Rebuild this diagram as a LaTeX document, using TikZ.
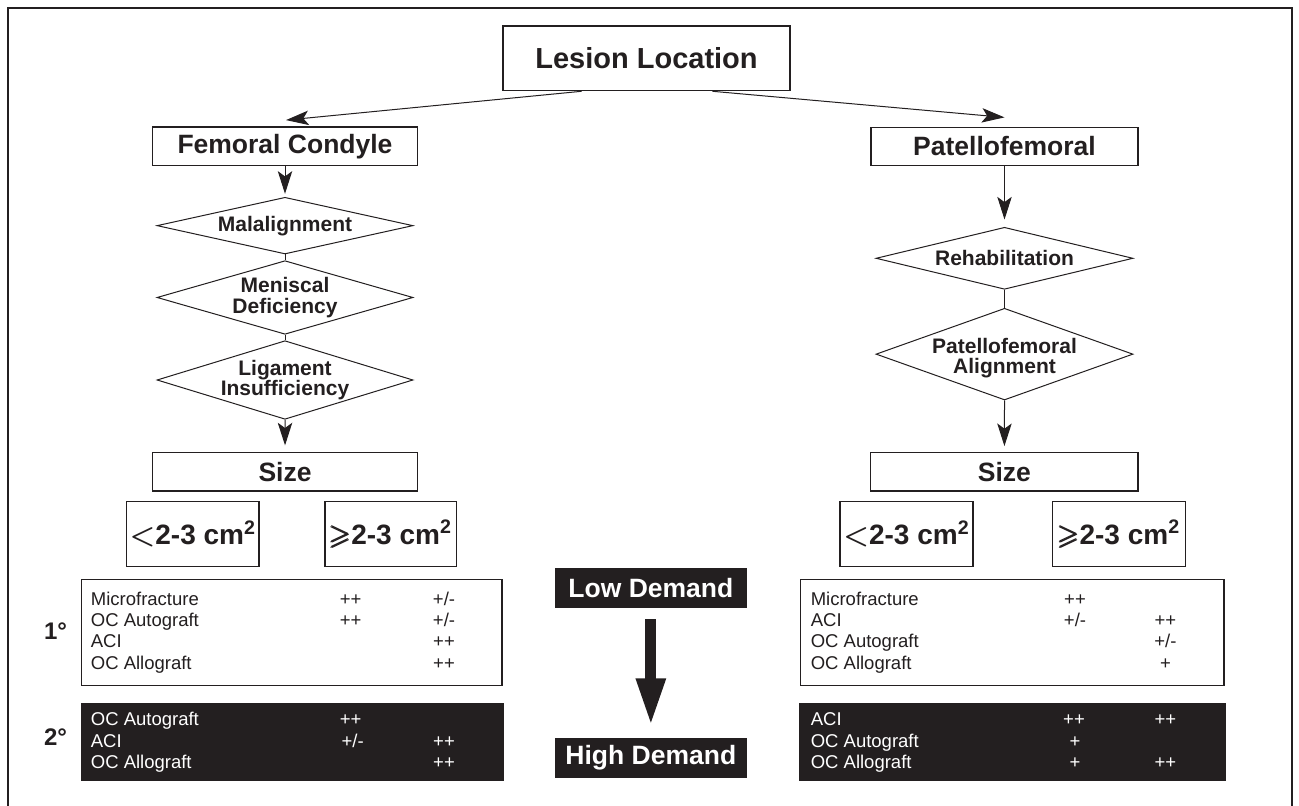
\documentclass[tikz,border=0pt]{standalone}
\usepackage{fontspec}
\setmainfont{Liberation Sans}
\usepackage{amsmath,amssymb}
\usetikzlibrary{shapes.geometric,arrows.meta,calc}
\definecolor{ink}{HTML}{231F20}
\begin{document}
\begin{tikzpicture}[x=0.5pt,y=-0.5pt,
  box/.style={draw=ink, line width=0.6pt, rectangle, inner sep=0pt, text=ink,
    font=\bfseries\fontsize{13.25pt}{15pt}\selectfont},
  bigbox/.style={box, font=\bfseries\fontsize{14.5pt}{17pt}\selectfont},
  sizebox/.style={box, font=\bfseries\fontsize{14pt}{16pt}\selectfont,
    minimum height=32.7pt},
  darkbox/.style={fill=ink, draw=ink, rectangle, inner sep=0pt, text=white,
    font=\bfseries\fontsize{13.25pt}{15pt}\selectfont},
  tablebox/.style={draw=ink, line width=0.6pt, rectangle, inner sep=0pt},
  darktable/.style={fill=ink, draw=ink, line width=0.6pt, rectangle, inner sep=0pt},
  diashape/.style={draw=ink, line width=0.5pt, diamond, inner sep=0pt},
  diatext/.style={align=center, text=ink, inner sep=0pt,
      font=\bfseries\fontsize{10.5pt}{10.3pt}\selectfont},
  dia/.style={diashape, label={[diatext]center:#1}},
  tt/.style={inner sep=0pt, text=ink, font=\fontsize{9.25pt}{11pt}\selectfont},
  ttw/.style={tt, text=white},
  rank/.style={inner sep=0pt, text=ink, anchor=base,
    font=\bfseries\fontsize{12pt}{14pt}\selectfont},
  ln/.style={draw=ink, line width=0.5pt},
  arr/.style={ln, -{Stealth[length=11.3pt, width=7.2pt, inset=2.6pt]}}
]
\useasboundingbox (0,0) rectangle (1299,806);
\fill[white] (0,0) rectangle (1299,806);
% outer frame (open at bottom, runs off the picture)
\draw[ink, line width=1.15pt] (8,830) -- (8,8) -- (1292,8) -- (1292,830);

% top level
\node[bigbox, minimum width=143.5pt, minimum height=32.35pt] (lesion) at (646.5,58.35) {Lesion Location};
\node[box, minimum width=132.35pt, minimum height=19.35pt] (fc) at (285,146.35) {Femoral Condyle};
\node[box, minimum width=133.5pt, minimum height=19.2pt] (pf) at (1004.5,146.5) {Patellofemoral};

% diamonds left
\node[dia={Malalignment}, minimum width=128pt, minimum height=28.35pt] (mal) at (285,225.65) {};
\node[dia={Meniscal\\Deficiency}, minimum width=128pt, minimum height=36.8pt] (men) at (285,297.5) {};
\node[dia={Ligament\\Insufficiency}, minimum width=128pt, minimum height=39.3pt] (lig) at (285,380) {};
% diamonds right
\node[dia={Rehabilitation}, minimum width=128.5pt, minimum height=31pt] (reh) at (1004.5,258.3) {};
\node[diashape, label={[diatext, yshift=-2pt]center:Patellofemoral\\Alignment},
  minimum width=128.5pt, minimum height=45.85pt] (pfa) at (1004.5,354.15) {};

% size boxes
\node[box, minimum width=132.35pt, minimum height=19.15pt] (sizeL) at (285.05,471.85) {Size};
\node[box, minimum width=133.6pt, minimum height=19.15pt] (sizeR) at (1004.4,471.85) {Size};

\node[sizebox, minimum width=66.2pt] (ltL) at (192.8,534) {$\boldsymbol{<}$2-3 cm\textsuperscript{2}};
\node[sizebox, minimum width=65.7pt] (geL) at (390.7,534) {$\pmb{\geqslant}$2-3 cm\textsuperscript{2}};
\node[sizebox, minimum width=66.5pt] (ltR) at (906.5,534) {$\boldsymbol{<}$2-3 cm\textsuperscript{2}};
\node[sizebox, minimum width=66.5pt] (geR) at (1119,534) {$\pmb{\geqslant}$2-3 cm\textsuperscript{2}};

% connectors
\draw[arr] ($(lesion.south)+(-65,0)$) -- ($(fc.north)+(1,-6.3)$);
\draw[arr] ($(lesion.south)+(66,0)$) -- ($(pf.north)+(0,-9.3)$);
\draw[arr, shorten >=1.5pt] (fc.south) -- (mal.north);
\draw[ln] (mal.south) -- (men.north);
\draw[ln] (men.south) -- (lig.north);
\draw[arr, shorten >=3.35pt] (lig.south) -- (sizeL.north);
\draw[arr, shorten >=3.65pt] (pf.south) -- (reh.north);
\draw[ln] (reh.south) -- (pfa.north);
\draw[arr, shorten >=3pt] (pfa.south) -- (sizeR.north);

% treatment tables
\node[tablebox, minimum width=210.35pt, minimum height=53pt] (t1L) at (291.65,632.3) {};
\node[darktable, minimum width=210.85pt, minimum height=38.35pt] (t2L) at (292.15,741.65) {};
\node[tablebox, minimum width=211.6pt, minimum height=53pt] (t1R) at (1012.4,632.3) {};
\node[darktable, minimum width=212.5pt, minimum height=38.35pt] (t2R) at (1012.5,741.65) {};

\node[rank] (r1) at (55.5,639.3) {1°};
\node[rank] (r2) at (55.5,745.7) {2°};

% left primary
\node[tt, anchor=base west] (a1) at (90.5,605) {Microfracture};
\node[tt, anchor=base] (a1b) at (350.6,605) {++};
\node[tt, anchor=base] (a1c) at (444,605) {+/-};
\node[tt, anchor=base west] (a2) at (90.5,626.4) {OC Autograft};
\node[tt, anchor=base] (a2b) at (350.6,626.4) {++};
\node[tt, anchor=base] (a2c) at (444,626.4) {+/-};
\node[tt, anchor=base west] (a3) at (90.5,647.9) {ACI};
\node[tt, anchor=base] (a3c) at (444,647.9) {++};
\node[tt, anchor=base west] (a4) at (90.5,669.3) {OC Allograft};
\node[tt, anchor=base] (a4c) at (444,669.3) {++};
% left secondary
\node[ttw, anchor=base west] (b1) at (90.5,725.7) {OC Autograft};
\node[ttw, anchor=base] (b1b) at (350.6,725.7) {++};
\node[ttw, anchor=base west] (b2) at (90.5,747) {ACI};
\node[ttw, anchor=base] (b2b) at (352.7,747) {+/-};
\node[ttw, anchor=base] (b2c) at (444,747) {++};
\node[ttw, anchor=base west] (b3) at (90.5,768.3) {OC Allograft};
\node[ttw, anchor=base] (b3c) at (444,768.3) {++};
% right primary
\node[tt, anchor=base west] (c1) at (810.4,605) {Microfracture};
\node[tt, anchor=base] (c1b) at (1075,605) {++};
\node[tt, anchor=base west] (c2) at (810.4,626.4) {ACI};
\node[tt, anchor=base] (c2b) at (1075,626.4) {+/-};
\node[tt, anchor=base] (c2c) at (1165.4,626.4) {++};
\node[tt, anchor=base west] (c3) at (810.4,647.9) {OC Autograft};
\node[tt, anchor=base] (c3c) at (1165.4,647.9) {+/-};
\node[tt, anchor=base west] (c4) at (810.4,669.3) {OC Allograft};
\node[tt, anchor=base] (c4c) at (1165.4,669.3) {+};
% right secondary
\node[ttw, anchor=base west] (d1) at (810.4,725.7) {ACI};
\node[ttw, anchor=base] (d1b) at (1074,725.7) {++};
\node[ttw, anchor=base] (d1c) at (1165.4,725.7) {++};
\node[ttw, anchor=base west] (d2) at (810.4,747) {OC Autograft};
\node[ttw, anchor=base] (d2b) at (1075,747) {+};
\node[ttw, anchor=base west] (d3) at (810.4,768.3) {OC Allograft};
\node[ttw, anchor=base] (d3b) at (1075,768.3) {+};
\node[ttw, anchor=base] (d3c) at (1165.4,768.3) {++};

% demand scale
\node[darkbox, minimum width=95.85pt, minimum height=19.5pt] (low) at (650.85,587.8) {Low Demand};
\node[darkbox, minimum width=95.85pt, minimum height=19.5pt] (high) at (650.85,757.8) {High Demand};
\draw[ink, line width=5.5pt, -{Triangle[length=24pt, width=13.5pt]},
  shorten <=5.85pt, shorten >=5.8pt] (low.south) -- (high.north);
\end{tikzpicture}
\end{document}
